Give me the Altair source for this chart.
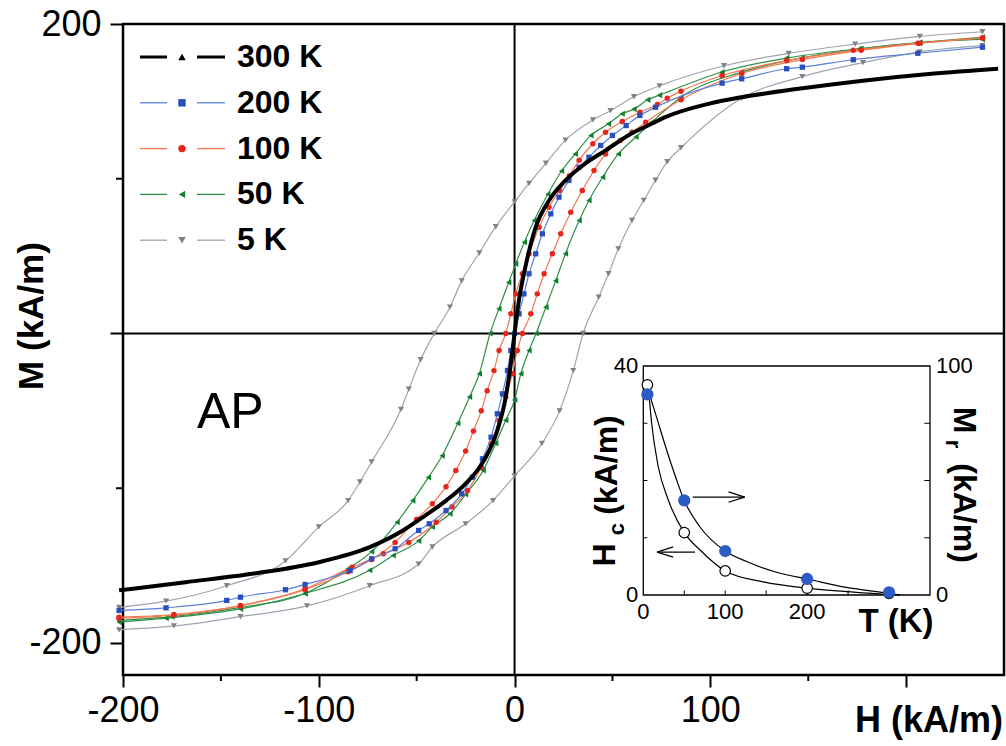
import altair as alt
import pandas as pd

# ---------------- main hysteresis loops (H in kA/m, M in kA/m) ----------------
K300_H = [-202, -168, -134, -100, -74, -57, -46, -35, -25, -15.6, -8.8, -4.5, -1.9, 0, 2.3, 5.7, 10.8, 17.6, 26, 36,
          46.5, 58, 70, 77, 99, 116, 145, 179, 213, 247]
K300_M = [-166, -160.7, -155.3, -147.8, -138.1, -127.3, -118, -108, -97, -82, -62.7, -41.1, -19.6, 0, 22, 44,
          68.7, 85.9, 98.9, 109.7, 118.3, 128, 135.5, 139.8, 148.4, 152.7, 158.1, 163.5, 167.8, 171.1]

K200_H = [-202, -178, -147, -140, -117, -107, -84, -73, -61, -49, -43.6, -35, -27, -21.5, -16.4, -12, -8.8, -6.2,
          -3.6, -1.9, 0, 2.3, 4.8, 7.4, 10.8, 14.2, 18.5, 22.7, 27.8, 33, 38, 44, 50, 57, 64, 72, 106, 116, 139, 147,
          173, 206, 239]
K200_M = [-179, -177.3, -172.5, -170.4, -165.6, -162.2, -153.2, -145.6, -139.1, -127.3, -123, -114.4, -103.6, -92.9,
          -81, -67, -51.9, -39, -23.9, -11, 0, 12.7, 25.6, 38.6, 51.5, 64.4, 77.3, 88.1, 98.9, 107.5, 113.9, 121.5,
          128, 134.4, 140.9, 146.2, 161.8, 164.6, 171.1, 172.1, 176.9, 181.1, 185]

K100_DN_H = [239, 206, 173, 139, 106, 85, 78, 73, 64, 55, 46.5, 40, 33, 28, 23, 17.6, 12.5, 7.4, 4, 0.6, -1.9, -4.5,
             -7.9, -10.5, -14, -17, -21, -25, -30, -35, -42, -50, -61, -73, -85, -107, -140, -174, -202]
K100_DN_M = [191, 187.6, 183, 176.4, 166.7, 156.6, 152, 148, 143, 137, 130, 122.6, 112, 102, 92.4, 81.6, 68.7, 51.5,
             38.6, 25.6, 12.7, 0, -11, -24, -37, -50, -63, -76, -88.5, -99, -110, -120, -135, -146, -154, -165.6,
             -176, -182, -184]
K100_UP_H = [-202, -174, -140, -107, -83, -67, -54, -40, -32, -24, -17, -12, -7.9, -4.5, -1.1, 1.4, 4, 8.3, 11.6,
             15.1, 19.3, 23.6, 28.7, 34.6, 40.6, 46.5, 54, 60, 67, 85, 116, 147, 177, 207, 239]
K100_UP_M = [-183.3, -181.6, -175.8, -165, -151, -142.4, -135, -122, -112, -101.5, -86.4, -71.3, -56, -41, -26, -11,
             0, 12.7, 25.6, 38.6, 51.5, 64.4, 78.4, 92.4, 105.3, 116, 124.7, 130, 136.5, 151, 168, 177, 183, 187.5, 191]

K50_DN_H = [239, 207, 176, 139, 106, 74, 68, 61, 55, 48, 39, 31, 24, 17, 10, 5, 0.6, -3, -8, -12.5, -18, -23, -29,
            -37, -44, -52, -60, -73, -85, -107, -140, -175, -202]
K50_DN_M = [191.5, 188, 184, 178, 169, 154, 151, 145, 142, 135.5, 128, 116, 105, 90, 73, 59, 45, 33, 16, 0, -26, -41,
            -58, -79, -93, -108, -122, -141, -152, -168, -177, -183, -185.5]
K50_UP_H = [-202, -178, -140, -107, -74, -62, -49, -42, -33, -25, -16, -9.6, -4.5, 0, 3.2, 7.4, 11, 16, 21, 26, 33,
            38, 45, 53, 62, 70, 85, 116, 147, 177, 207, 239]
K50_UP_M = [-186.5, -184, -178, -168, -153, -143.5, -134, -125, -116.5, -104, -88.5, -71, -56, -43, -26, -11, 0, 17,
            34, 51.5, 73, 86, 101, 116, 127, 136.5, 152.7, 168.9, 178.2, 184, 188, 190]

K5_DN_H = [239, 207, 174, 140, 107, 74, 61, 49, 40, 26, 16, 7.4, 0, -9.6, -18, -27, -33, -41, -48, -54, -58, -73,
           -79, -85, -100, -117, -147, -178, -202]
K5_DN_M = [195, 192, 187, 181, 173, 160, 153, 144, 138, 125, 110, 97, 85, 69, 52, 34, 17, 0, -17, -36, -49, -83, -96,
           -108, -125, -147, -163, -173, -177]
K5_UP_H = [-202, -174, -140, -106, -74, -49, -42, -25, -11, 0, 14, 23, 30, 35, 43, 48, 53, 60, 66, 72, 78, 85, 116,
           147, 178, 207, 239]
K5_UP_M = [-191.5, -189, -183, -176, -163, -149, -138, -123, -108, -92, -71, -50, -24, 0, 23.5, 38.6, 54.7, 73, 86,
           99, 111, 120, 152, 166, 175, 182, 186]

# ---------------- inset: Hc and Mr vs T ----------------
INS_T = [5, 50, 100, 200, 300]
INS_HC = [36.7, 10.9, 4.2, 1.2, 0.3]
INS_MR = [87.6, 41.3, 19.2, 7.0, 1.2]
FIT_MR_T = [6, 16, 28.5, 40.7, 50, 69, 100, 126, 167, 200, 248, 301, 313]
FIT_MR = [89.5, 77.9, 63.3, 50.2, 41.3, 29.8, 19.2, 14.6, 9.5, 7.0, 3.3, 0.7, 0]
FIT_HC_T = [6, 10.2, 18.3, 30.5, 50, 69, 100, 146.5, 200, 248, 313]
FIT_HC = [36.7, 30.0, 22.4, 16.6, 10.9, 7.9, 4.2, 2.3, 1.2, 0.6, 0]
# arrows (T, Hc) start -> end
ARROW_T1 = [60.3, 123.8, 123.8, 63.1, 16.7, 16.7]
ARROW_T2 = [123.8, 104.0, 104.0, 16.7, 36.5, 36.5]
ARROW_H1 = [17.1, 17.1, 17.1, 7.5, 7.5, 7.5]
ARROW_H2 = [17.1, 18.0, 16.2, 7.5, 8.4, 6.6]

LEG_LABELS = ["300 K", "200 K", "100 K", "50 K", "5 K"]

FONT = "Liberation Sans"
W, HGT = 881, 651

# ---------------- main scales / axes ----------------
xs = alt.Scale(domain=[-200, 250], nice=False, zero=False)
ys = alt.Scale(domain=[-220.7, 200], nice=False, zero=False)
minus = "(datum.value < 0 ? '-' + abs(datum.value) : '' + datum.value)"
xax = alt.Axis(values=[-200, -100, 0, 100, 200], labelExpr="datum.value == 200 ? '' : " + minus,
               tickSize=12, tickWidth=2, tickColor="black", domain=False, grid=False,
               labelFontSize=36, labelFont=FONT, labelColor="black", labelPadding=6,
               labelFlush=False, labelOverlap=False, title=None)
yax = alt.Axis(values=[-200, 0, 200], labelExpr="datum.value == 0 ? '' : " + minus,
               tickSize=13, tickWidth=2, tickColor="black", domain=False, grid=False,
               labelFontSize=36, labelFont=FONT, labelColor="black", labelPadding=9,
               labelFlush=False, labelOverlap=False, title=None)
X = alt.X("H:Q", scale=xs, axis=xax)
Y = alt.Y("M:Q", scale=ys, axis=yax)


def frame(h, m, br):
    return pd.DataFrame({"H": h, "M": m, "br": br})


def loop(df, lc, mc, shape, size, lw=1.2):
    line = alt.Chart(df).mark_line(color=lc, strokeWidth=lw, interpolate="monotone").encode(
        x=X, y=Y, detail="br:N")
    pts = alt.Chart(df).mark_point(shape=shape, filled=True, color=mc, size=size, opacity=1).encode(x=X, y=Y)
    return [line, pts]


df5 = pd.concat([frame(K5_DN_H, K5_DN_M, "dn"), frame(K5_UP_H, K5_UP_M, "up")])
df50 = pd.concat([frame(K50_DN_H, K50_DN_M, "dn"), frame(K50_UP_H, K50_UP_M, "up")])
df100 = pd.concat([frame(K100_DN_H, K100_DN_M, "dn"), frame(K100_UP_H, K100_UP_M, "up")])
df200 = frame(K200_H, K200_M, "a")
df300 = frame(K300_H, K300_M, "a")

zero_v = alt.Chart(pd.DataFrame({"H": [0]})).mark_rule(color="black", strokeWidth=2).encode(x=X)
zero_h = alt.Chart(pd.DataFrame({"M": [0]})).mark_rule(color="black", strokeWidth=2).encode(y=Y)
minor_x = alt.Chart(pd.DataFrame({"H": [-150, -50, 50, 150]})).mark_rule(color="black", strokeWidth=2).encode(
    x=X, y=alt.value(HGT), y2=alt.value(HGT + 6))
minor_y = alt.Chart(pd.DataFrame({"M": [-100, 100]})).mark_rule(color="black", strokeWidth=2).encode(
    y=Y, x=alt.value(-7), x2=alt.value(0))

layers = [zero_v, zero_h, minor_x, minor_y]
layers += loop(df5, "#9aa6b2", "#808286", "triangle-down", 38)
layers += loop(df50, "#2f8f46", "#10802f", "triangle-left", 38)
layers += loop(df100, "#f2774f", "#e8251b", "circle", 30)
layers += loop(df200, "#5b7fdc", "#2a4fbd", "square", 28)
layers.append(alt.Chart(df300).mark_line(color="black", strokeWidth=4, interpolate="monotone").encode(x=X, y=Y))
main = alt.layer(*layers)

# ---------------- inset ----------------
ins_x = alt.Scale(domain=[0, 350], range=[520.3, 807], nice=False, zero=False)
ins_hc = alt.Scale(domain=[0, 40], range=[571, 342], nice=False, zero=False)
ins_mr = alt.Scale(domain=[0, 100], range=[571, 342], nice=False, zero=False)
IX = alt.X("T:Q", scale=ins_x, axis=None)
IHC = alt.Y("Hc:Q", scale=ins_hc, axis=None)
IMR = alt.Y("Mr:Q", scale=ins_mr, axis=None)

pts_df = pd.DataFrame({"T": INS_T, "Hc": INS_HC, "Mr": INS_MR})
box = alt.Chart(pd.DataFrame({"T": [0], "T2": [350], "Hc": [0], "Hc2": [40]})).mark_rect(
    fill="white", stroke="black", strokeWidth=1.3).encode(x=IX, x2="T2:Q", y=IHC, y2="Hc2:Q")
tick_b = alt.Chart(pd.DataFrame({"T": [50, 100, 150, 200, 250, 300], "Hc": 0, "Hc2": 0.8})).mark_rule(
    color="black", strokeWidth=1).encode(x=IX, y=IHC, y2="Hc2:Q")
tick_l = alt.Chart(pd.DataFrame({"T": 0, "T2": 5, "Hc": [10, 20, 30]})).mark_rule(
    color="black", strokeWidth=1).encode(x=IX, x2="T2:Q", y=IHC)
fit_hc = alt.Chart(pd.DataFrame({"T": FIT_HC_T, "Hc": FIT_HC})).mark_line(
    color="black", strokeWidth=1.2, interpolate="monotone").encode(x=IX, y=IHC)
open_c = alt.Chart(pts_df).mark_point(shape="circle", filled=False, color="black", size=110,
                                      strokeWidth=1.2, fill="white", fillOpacity=1).encode(x=IX, y=IHC)
arrows = alt.Chart(pd.DataFrame({"T": ARROW_T1, "T2": ARROW_T2, "Hc": ARROW_H1, "Hc2": ARROW_H2})).mark_rule(
    color="black", strokeWidth=1.3).encode(x=IX, x2="T2:Q", y=IHC, y2="Hc2:Q")
lab_l = alt.Chart(pd.DataFrame({"T": 0, "Hc": [0, 40], "t": ["0", "40"]})).mark_text(
    align="right", baseline="middle", dx=-5, fontSize=22, font=FONT, color="black").encode(x=IX, y=IHC, text="t:N")
lab_b = alt.Chart(pd.DataFrame({"T": [0, 100, 200], "Hc": 0, "t": ["0", "100", "200"]})).mark_text(
    align="center", baseline="middle", dy=17, fontSize=22, font=FONT, color="black").encode(x=IX, y=IHC, text="t:N")
hc_group = alt.layer(box, tick_b, tick_l, fit_hc, open_c, arrows, lab_l, lab_b)

tick_r = alt.Chart(pd.DataFrame({"T": 343, "T2": 350, "Mr": [25, 50, 75]})).mark_rule(
    color="black", strokeWidth=1).encode(x=IX, x2="T2:Q", y=IMR)
fit_mr = alt.Chart(pd.DataFrame({"T": FIT_MR_T, "Mr": FIT_MR})).mark_line(
    color="black", strokeWidth=1.2, interpolate="monotone").encode(x=IX, y=IMR)
fill_c = alt.Chart(pts_df).mark_point(shape="circle", filled=True, color="#2d5bc6", size=150,
                                      opacity=1).encode(x=IX, y=IMR)
lab_r = alt.Chart(pd.DataFrame({"T": 350, "Mr": [0, 100], "t": ["0", "100"]})).mark_text(
    align="left", baseline="middle", dx=6, fontSize=22, font=FONT, color="black").encode(x=IX, y=IMR, text="t:N")
mr_group = alt.layer(tick_r, fit_mr, fill_c, lab_r)

inset = alt.layer(hc_group, mr_group).resolve_scale(y="independent")

# ---------------- legend and text annotations ----------------
leg = pd.DataFrame({
    "lab": LEG_LABELS,
    "lc": ["#000000", "#5b7fdc", "#f2774f", "#2f8f46", "#9aa6b2"],
    "mc": ["#000000", "#2a4fbd", "#e8251b", "#10802f", "#808286"],
    "shp": ["triangle-up", "square", "circle", "triangle-left", "triangle-down"],
    "lw": [3, 1.3, 1.3, 1.3, 1.3],
})
leg["ly"] = [33 + 45.8 * i for i in range(len(leg))]
LY = alt.Y("ly:Q", scale=None, axis=None)
LC = alt.Color("lc:N", scale=None, legend=None)
LW = alt.StrokeWidth("lw:Q", scale=None, legend=None)
leg_l1 = alt.Chart(leg).mark_rule().encode(x=alt.value(17), x2=alt.value(44), y=LY, color=LC, strokeWidth=LW)
leg_l2 = alt.Chart(leg).mark_rule().encode(x=alt.value(74), x2=alt.value(102), y=LY, color=LC, strokeWidth=LW)
leg_pt = alt.Chart(leg).mark_point(filled=True, size=55, opacity=1).encode(
    x=alt.value(59), y=LY, shape=alt.Shape("shp:N", scale=None, legend=None),
    color=alt.Color("mc:N", scale=None, legend=None))
leg_tx = alt.Chart(leg).mark_text(align="left", baseline="middle", fontSize=32, fontWeight="bold",
                                  font=FONT, color="black").encode(x=alt.value(114), y=LY, text="lab:N")

one = pd.DataFrame({"a": [0]})


def txt(s, x, y, size, bold=True, angle=0, align="center", baseline="middle"):
    kw = dict(text=s, fontSize=size, font=FONT, color="black", align=align, baseline=baseline)
    if bold:
        kw["fontWeight"] = "bold"
    if angle:
        kw["angle"] = angle
    return alt.Chart(one).mark_text(**kw).encode(x=alt.value(x), y=alt.value(y))


notes = [
    txt("M (kA/m)", -91, 292, 35, angle=270),
    txt("H (kA/m)", 880, 708, 36, align="right", baseline="alphabetic"),
    txt("AP", 74, 404, 50, bold=False, align="left", baseline="alphabetic"),
    txt("H", 482, 531, 32, angle=270),
    txt("c", 494, 505, 22, angle=270),
    txt("(kA/m)", 484, 441, 32, angle=270),
    txt("M", 841, 396, 32, angle=90),
    txt("r", 830, 420, 22, angle=90),
    txt("(kA/m)", 841, 489, 32, angle=90),
    txt("T (K)", 773, 598, 33),
]
annot = alt.layer(leg_l1, leg_l2, leg_pt, leg_tx, *notes)

chart = alt.layer(main, inset, annot).resolve_scale(x="independent", y="independent").properties(
    width=W, height=HGT,
    autosize=alt.AutoSizeParams(type="none"),
    padding={"left": 123, "top": 24, "right": 2, "bottom": 71},
    background="white",
).configure_view(stroke="black", strokeWidth=2.5)

chart.save("out.html", embed_options={"renderer": "svg", "actions": False})
